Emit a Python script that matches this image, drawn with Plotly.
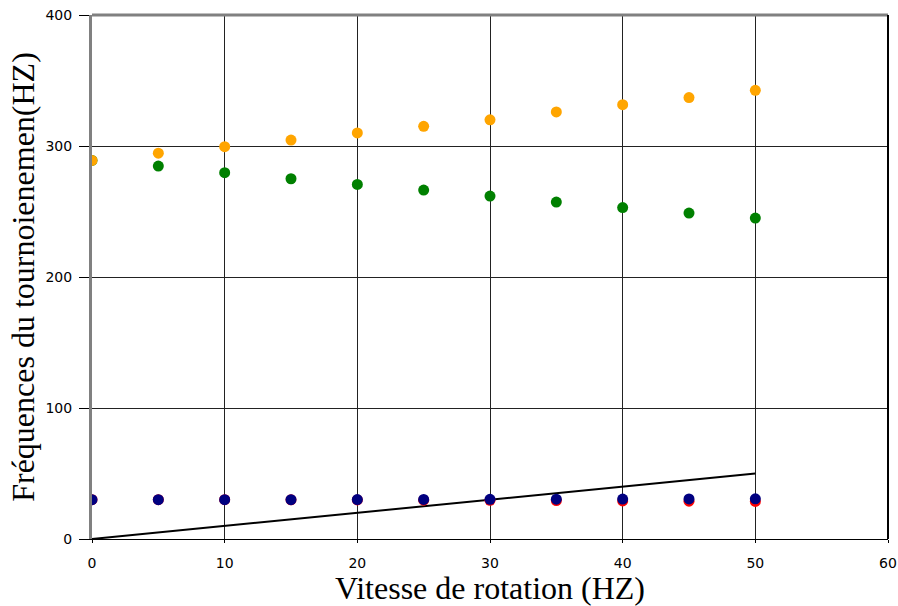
import plotly.graph_objects as go

vitesse = [0, 5, 10, 15, 20, 25, 30, 35, 40, 45, 50]
freq_orange = [289, 294.5, 299.5, 304.5, 310, 315, 320, 326, 331.5, 337, 342.5]
freq_green = [289, 284.7, 279.6, 275, 270.7, 266.4, 261.8, 257.2, 253, 248.8, 245]
freq_red = [30, 30, 30, 29.9, 29.8, 29.6, 29.5, 29.3, 29.1, 28.9, 28.7]
freq_navy = [30, 30, 30, 30, 30.1, 30.2, 30.3, 30.4, 30.5, 30.6, 30.7]
droite_x = [0, 50]
droite_y = [0, 50]

fig = go.Figure()
fig.add_trace(go.Scatter(x=droite_x, y=droite_y, mode="lines",
                         line=dict(color="black", width=2), showlegend=False))
fig.add_trace(go.Scatter(x=vitesse, y=freq_green, mode="markers",
                         marker=dict(color="#008000", size=11), showlegend=False))
fig.add_trace(go.Scatter(x=vitesse, y=freq_orange, mode="markers",
                         marker=dict(color="#FFA500", size=11), showlegend=False))
fig.add_trace(go.Scatter(x=vitesse, y=freq_red, mode="markers",
                         marker=dict(color="#FF0000", size=11), showlegend=False))
fig.add_trace(go.Scatter(x=vitesse, y=freq_navy, mode="markers",
                         marker=dict(color="#000080", size=11), showlegend=False))

tick_font = dict(family="DejaVu Sans", size=14, color="black")
title_font = dict(family="Liberation Serif", size=32, color="black")

fig.update_layout(
    width=898, height=606,
    margin=dict(l=92, r=10, t=15, b=67),
    paper_bgcolor="white", plot_bgcolor="white",
    xaxis=dict(range=[0, 60], tickvals=[0, 10, 20, 30, 40, 50, 60],
               automargin=False,
               showgrid=True, gridcolor="#222", gridwidth=1,
               showline=True, linecolor="black", linewidth=1,
               ticks="outside", ticklen=3, tickcolor="black",
               ticklabelstandoff=8,
               tickfont=tick_font, zeroline=False,
               title=dict(text="Vitesse de rotation (HZ)", font=title_font, standoff=6)),
    yaxis=dict(range=[0, 400], tickvals=[0, 100, 200, 300, 400],
               automargin=False,
               showgrid=True, gridcolor="#222", gridwidth=1,
               showline=True, linecolor="#808080", linewidth=3,
               ticks="outside", ticklen=10, tickcolor="black",
               ticklabelstandoff=4,
               tickfont=tick_font, zeroline=False,
               title=dict(text="Fréquences du tournoienemen(HZ)", font=title_font, standoff=2)),
    shapes=[
        dict(type="line", xref="paper", yref="paper", x0=0, x1=1, y0=1, y1=1,
             line=dict(color="#808080", width=3)),
        dict(type="line", xref="paper", yref="paper", x0=1, x1=1, y0=0, y1=1,
             line=dict(color="black", width=2)),
    ],
)

fig.write_html("out.html")
